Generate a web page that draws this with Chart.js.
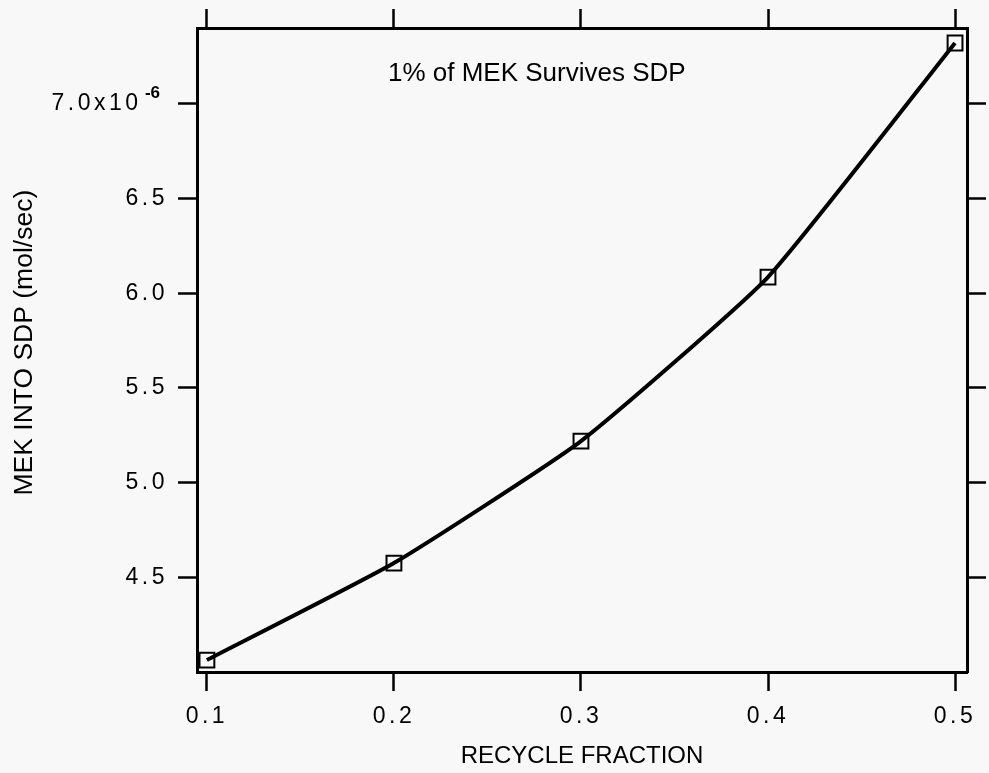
<!DOCTYPE html>
<html>
<head>
<meta charset="utf-8">
<script src="https://cdn.jsdelivr.net/npm/chart.js@4/dist/chart.umd.min.js"></script>
<style>
  html, body { margin: 0; padding: 0; background: #f8f8f8; }
  #wrap { width: 989px; height: 773px; }
</style>
</head>
<body>
<div id="wrap"><canvas id="chart"></canvas></div>
<script>
// Data (y values in units of 1e-6 mol/sec)
const recycleFraction = [0.1, 0.2, 0.3, 0.4, 0.5];
const mekIntoSdp = [4.063, 4.575, 5.219, 6.085, 7.321];
const xTicks = [0.1, 0.2, 0.3, 0.4, 0.5];
const yTicks = [4.5, 5.0, 5.5, 6.0, 6.5, 7.0];
const note = "1% of MEK Survives SDP";

const FONT = "'Liberation Sans', Arial, Helvetica, sans-serif";

// annotation inside the frame, plus the "-6" exponent of the top y label
const extrasPlugin = {
  id: "extras",
  afterDraw(chart) {
    const { ctx, chartArea } = chart;
    const y = chart.scales.y;
    ctx.save();
    ctx.fillStyle = "#000";
    ctx.textBaseline = "middle";
    ctx.font = "26px " + FONT;
    ctx.textAlign = "left";
    ctx.fillText(note, chartArea.left + 191, chartArea.top + 46);
    ctx.font = "bold 17px " + FONT;
    ctx.textAlign = "right";
    ctx.fillText("-6", y.right - 37, y.getPixelForValue(7.0) - 10);
    ctx.restore();
  },
  // spaced-out digits on the tick labels
  afterLayout(chart) {
    ["x", "y"].forEach(id => {
      const s = chart.scales[id];
      if (s._spaced) return;
      const orig = s.drawLabels;
      s.drawLabels = function (area) {
        this.ctx.letterSpacing = "3.5px";
        orig.call(this, area);
        this.ctx.letterSpacing = "0px";
      };
      s._spaced = true;
    });
  }
};

// shared look for the four frame sides
function side(extra) {
  return Object.assign({
    type: "linear",
    grid: { drawOnChartArea: false, tickLength: 19, tickWidth: 2.5, tickColor: "#000" },
    border: { display: true, color: "#000", width: 3 }
  }, extra);
}

const ctx = document.getElementById("chart").getContext("2d");
new Chart(ctx, {
  type: "line",
  data: {
    datasets: [{
      data: recycleFraction.map((x, i) => ({ x: x, y: mekIntoSdp[i] })),
      borderColor: "#000",
      borderWidth: 4,
      tension: 0.15,
      pointStyle: "rect",
      pointRadius: 10.5,
      pointBorderWidth: 2,
      pointBorderColor: "#000",
      pointBackgroundColor: "rgba(0,0,0,0)",
      clip: false
    }]
  },
  options: {
    responsive: true,
    maintainAspectRatio: false,
    animation: false,
    layout: { padding: 0 },
    plugins: { legend: { display: false }, tooltip: { enabled: false } },
    scales: {
      x: side({
        position: "bottom",
        min: 0.0947, max: 0.5064,
        afterBuildTicks: s => { s.ticks = xTicks.map(v => ({ value: v })); },
        afterFit: s => { s.height = 101; },
        ticks: { color: "#000", padding: 12, font: { family: FONT, size: 23 },
                 callback: v => v.toFixed(1) },
        title: { display: true, text: "RECYCLE FRACTION", color: "#000",
                 font: { family: FONT, size: 24 }, padding: { top: 0, bottom: 2 } }
      }),
      x2: side({
        position: "top",
        min: 0.0947, max: 0.5064,
        afterBuildTicks: s => { s.ticks = xTicks.map(v => ({ value: v })); },
        afterFit: s => { s.height = 28; },
        ticks: { display: false }
      }),
      y: side({
        position: "left",
        min: 4.0, max: 7.4,
        afterBuildTicks: s => { s.ticks = yTicks.map(v => ({ value: v })); },
        afterFit: s => { s.width = 197; },
        ticks: { color: "#000", padding: 10, font: { family: FONT, size: 23 },
                 callback: v => v === 7 ? "7.0x10\u2003" : v.toFixed(1) },
        title: { display: true, text: "  MEK INTO SDP (mol/sec)", color: "#000",
                 font: { family: FONT, size: 26.5 }, padding: { top: 9, bottom: 0 } }
      }),
      y2: side({
        position: "right",
        min: 4.0, max: 7.4,
        afterBuildTicks: s => { s.ticks = yTicks.map(v => ({ value: v })); },
        afterFit: s => { s.width = 22; },
        ticks: { display: false }
      })
    }
  },
  plugins: [extrasPlugin]
});
</script>
</body>
</html>
